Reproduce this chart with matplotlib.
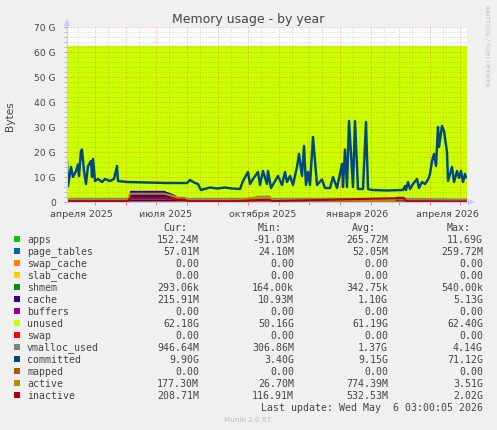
import matplotlib
matplotlib.use('Agg')
import matplotlib.pyplot as plt
import pandas as pd
from matplotlib.patches import Rectangle, Polygon

# ---------------- data ----------------
title = "Memory usage - by year"
ylabel = "Bytes"

committed_dates = [
    '2025-04-03', '2025-04-04', '2025-04-07', '2025-04-09', '2025-04-12', '2025-04-14', '2025-04-15',
    '2025-04-17', '2025-04-18', '2025-04-20', '2025-04-22', '2025-04-24', '2025-04-27', '2025-04-28',
    '2025-04-29', '2025-05-01', '2025-05-04', '2025-05-08', '2025-05-11', '2025-05-16', '2025-05-20',
    '2025-05-23', '2025-05-24', '2025-06-02', '2025-06-22', '2025-07-12', '2025-08-01', '2025-08-04',
    '2025-08-08', '2025-08-12', '2025-08-15', '2025-08-24', '2025-08-31', '2025-09-08', '2025-09-15',
    '2025-09-23', '2025-09-26', '2025-10-01', '2025-10-03', '2025-10-06', '2025-10-11', '2025-10-13',
    '2025-10-16', '2025-10-20', '2025-10-21', '2025-10-24', '2025-10-31', '2025-11-04', '2025-11-07',
    '2025-11-09', '2025-11-12', '2025-11-15', '2025-11-19', '2025-11-21', '2025-11-24', '2025-11-26',
    '2025-11-28', '2025-11-30', '2025-12-02', '2025-12-05', '2025-12-09', '2025-12-14', '2025-12-17',
    '2025-12-22', '2025-12-25', '2025-12-29', '2026-01-03', '2026-01-04', '2026-01-06', '2026-01-08',
    '2026-01-10', '2026-01-14', '2026-01-16', '2026-01-19', '2026-01-24', '2026-01-27', '2026-01-29',
    '2026-02-02', '2026-02-17', '2026-03-05', '2026-03-07', '2026-03-08', '2026-03-10', '2026-03-12',
    '2026-03-15', '2026-03-19', '2026-03-21', '2026-03-24', '2026-03-27', '2026-03-30', '2026-04-01',
    '2026-04-03', '2026-04-05', '2026-04-07', '2026-04-09', '2026-04-10', '2026-04-13', '2026-04-15',
    '2026-04-18', '2026-04-19', '2026-04-23', '2026-04-25', '2026-04-28', '2026-04-30', '2026-05-02',
    '2026-05-04', '2026-05-06', '2026-05-07']
committed = [
    16.0, 6.4, 14.0, 10.0, 12.4, 15.0, 10.4,
    20.4, 21.0, 12.4, 7.2, 14.4, 16.4, 10.0,
    17.2, 8.4, 9.2, 8.0, 9.2, 8.4, 9.2,
    14.4, 8.4, 8.0, 7.8, 7.6, 7.6, 8.8,
    7.8, 7.2, 4.8, 5.8, 5.4, 5.8, 5.4,
    5.2, 8.4, 12.0, 7.2, 9.2, 12.0, 6.8,
    12.4, 7.2, 12.4, 5.6, 10.4, 6.8, 12.0,
    8.0, 10.4, 6.8, 14.0, 19.2, 10.4, 22.4,
    6.8, 12.0, 6.8, 26.0, 6.8, 9.0, 5.6,
    5.6, 10.0, 5.6, 15.2, 6.0, 21.0, 6.0,
    32.4, 6.0, 32.4, 5.2, 5.2, 32.0, 5.2,
    4.8, 4.6, 4.8, 6.4, 4.8, 8.0, 5.2,
    7.2, 9.2, 5.6, 8.0, 7.2, 9.0, 11.2,
    16.4, 19.2, 14.4, 30.0, 22.0, 30.4, 28.4,
    20.0, 8.4, 14.0, 8.0, 12.4, 9.6, 12.4,
    8.0, 11.2, 9.9]

stack_dates = ['2025-04-03', '2025-06-03', '2025-06-05', '2025-07-09', '2025-07-20', '2025-07-22',
               '2025-07-30', '2025-08-02', '2025-09-18', '2025-10-08', '2025-10-10', '2025-10-23',
               '2025-10-25', '2026-02-24', '2026-02-26', '2026-03-06', '2026-03-08', '2026-05-08']
apps        = [0.25, 0.25, 0.25, 0.25, 0.25, 0.25, 0.25, 0.25, 0.25, 0.25, 0.25, 0.25, 0.25, 0.25, 0.25, 0.25, 0.25, 0.15]
page_tables = [0.05, 0.05, 0.05, 0.05, 0.05, 0.05, 0.05, 0.05, 0.05, 0.05, 0.05, 0.05, 0.05, 0.05, 0.05, 0.05, 0.05, 0.06]
swap_cache  = [0.0] * 18
slab_cache  = [0.0] * 18
shmem       = [0.0003] * 18
cache       = [0.3, 0.3, 4.3, 4.3, 2.6, 1.9, 1.8, 0.3, 0.3, 1.6, 2.3, 2.3, 0.3, 0.3, 1.9, 1.9, 0.3, 0.22]
buffers     = [0.0] * 18
unused      = [61.85, 61.85, 57.85, 57.85, 59.55, 60.25, 60.35, 61.85, 61.85, 60.55, 59.85, 59.85,
               61.85, 61.85, 60.25, 60.25, 61.85, 62.0]
swap        = [0.0] * 18
vmalloc_used = [1.25, 1.25, 1.35, 1.35, 1.3, 1.3, 1.3, 1.25, 1.25, 1.3, 1.3, 1.3, 1.25, 1.3, 1.3, 1.3, 1.25, 0.95]
mapped       = [0.0] * 18
active       = [0.6, 0.6, 3.3, 3.3, 2.2, 1.6, 1.4, 0.6, 0.7, 1.8, 2.0, 2.0, 0.6, 0.6, 1.0, 1.0, 0.6, 0.18]
inactive     = [0.35, 0.35, 1.5, 1.5, 1.2, 1.0, 0.9, 0.35, 0.35, 0.7, 0.8, 0.8, 0.35, 1.5, 1.5, 1.5, 0.35, 0.21]

x_start, x_end = '2025-04-03', '2026-05-08'
x_label_dates = ['2025-04-17', '2025-07-11', '2025-10-16', '2026-01-18', '2026-04-18']
x_labels = ['апреля 2025', 'июля 2025', 'октября 2025', 'января 2026', 'апреля 2026']
y_ticks = [0, 10, 20, 30, 40, 50, 60, 70]
y_labels = ['0', '10 G', '20 G', '30 G', '40 G', '50 G', '60 G', '70 G']

legend_names = ['apps', 'page_tables', 'swap_cache', 'slab_cache', 'shmem', 'cache', 'buffers',
                'unused', 'swap', 'vmalloc_used', 'committed', 'mapped', 'active', 'inactive']
legend_colors = ['#00CC00', '#0066B3', '#FF8000', '#FFCC00', '#008F00', '#330099', '#990099',
                 '#CCFF00', '#FF0000', '#808080', '#00487D', '#B35A00', '#B38F00', '#B30000']
cur_vals = ['152.24M', '57.01M', '0.00', '0.00', '293.06k', '215.91M', '0.00', '62.18G', '0.00',
            '946.64M', '9.90G', '0.00', '177.30M', '208.71M']
min_vals = ['-91.03M', '24.10M', '0.00', '0.00', '164.00k', '10.93M', '0.00', '50.16G', '0.00',
            '306.86M', '3.40G', '0.00', '26.70M', '116.91M']
avg_vals = ['265.72M', '52.05M', '0.00', '0.00', '342.75k', '1.10G', '0.00', '61.19G', '0.00',
            '1.37G', '9.15G', '0.00', '774.39M', '532.53M']
max_vals = ['11.69G', '259.72M', '0.00', '0.00', '540.00k', '5.13G', '0.00', '62.40G', '0.00',
            '4.14G', '71.12G', '0.00', '3.51G', '2.02G']
col_headers = ['Cur:', 'Min:', 'Avg:', 'Max:']
last_update = "Last update: Wed May  6 03:00:05 2026"
version = "Munin 2.0.67"
watermark = "RRDTOOL / TOBI OETIKER"

# ---------------- figure ----------------
W, H = 497, 431
BG = '#F0F0F0'
TXT = '#444444'
fig = plt.figure(figsize=(W / 100, H / 100), dpi=100, facecolor=BG)

def fx(x):
    return x / W

def fy(y):
    return 1 - y / H

ax_l, ax_t, ax_r, ax_b = 67, 28, 467, 203
ax = fig.add_axes([fx(ax_l), fy(ax_b), (ax_r - ax_l) / W, (ax_b - ax_t) / H])
ax.set_facecolor('white')

sd = pd.to_datetime(stack_dates)
stack_series = [apps, page_tables, swap_cache, slab_cache, shmem, cache, buffers, unused, swap]
stack_cols = legend_colors[:9]
ax.stackplot(sd, *stack_series, colors=stack_cols, linewidth=0, zorder=1)

x0, x1 = pd.Timestamp(x_start), pd.Timestamp(x_end)
ax.set_xlim(x0, x1)
ax.set_ylim(0, 70)

# grid (dotted, rrdtool style)
dot = (0, (1, 2))
minor_c = (0.4, 0.4, 0.4, 0.3)
major_c = (1, 0, 0, 0.38)
for v in range(0, 71, 2):
    if v % 10:
        ax.axhline(v, color=minor_c, lw=0.72, ls=dot, zorder=2)
for v in y_ticks[1:]:
    ax.axhline(v, color=major_c, lw=0.72, ls=dot, zorder=2)
month_starts = pd.date_range(x0, x1, freq='MS')
mid_months = pd.date_range(x0, x1, freq='MS') + pd.Timedelta(days=13)
for d in mid_months:
    if d < x1:
        ax.axvline(d, color=minor_c, lw=0.72, ls=dot, zorder=2)
ax.axvline(x0 + pd.Timedelta(days=11), color=minor_c, lw=0.72, ls=dot, zorder=2)
for d in month_starts:
    ax.axvline(d, color=major_c, lw=0.72, ls=dot, zorder=2)

# lines
lw = 1.45
ax.plot(sd, vmalloc_used, color='#808080', lw=lw, zorder=3)
ax.plot(pd.to_datetime(committed_dates), committed, color='#00487D', lw=1.75, zorder=3,
        solid_joinstyle='round')
ax.plot(sd, mapped, color='#B35A00', lw=lw, zorder=3)
ax.plot(sd, active, color='#B38F00', lw=lw, zorder=3)
ax.plot(sd, inactive, color='#B30000', lw=lw, zorder=3)

# axes / ticks
for s in ['top', 'right']:
    ax.spines[s].set_visible(False)
axis_col = '#C8C8F0'
ax.spines['left'].set_color(axis_col)
ax.spines['bottom'].set_color(axis_col)
ax.spines['left'].set_linewidth(0.8)
ax.spines['bottom'].set_linewidth(0.8)
ax.spines['left'].set_zorder(4)
ax.spines['bottom'].set_zorder(4)

ax.set_yticks(y_ticks)
ax.set_yticklabels(y_labels, fontsize=6.6, color=TXT, family='DejaVu Sans')
ax.tick_params(axis='y', length=2, width=0.7, color=(1, 0, 0, 0.5), pad=6)
ax.set_xticks(pd.to_datetime(x_label_dates))
ax.set_xticklabels(x_labels, fontsize=6.8, color=TXT, family='DejaVu Sans')
ax.tick_params(axis='x', length=0, pad=5)
ax.set_xticks(month_starts, minor=True)
ax.tick_params(axis='x', which='minor', length=2, width=0.7, color=(1, 0, 0, 0.5))
ax.set_yticks([v for v in range(0, 71, 2) if v % 10], minor=True)
ax.tick_params(axis='y', which='minor', length=2, width=0.7, color=(0.5, 0.5, 0.5, 0.5))

# arrows
fig.add_artist(Polygon([(fx(64), fy(27)), (fx(70), fy(27)), (fx(67), fy(20))], closed=True,
                       transform=fig.transFigure, color=axis_col, lw=0))
fig.add_artist(plt.Line2D([fx(67), fx(67)], [fy(28), fy(24)], transform=fig.transFigure,
                          color=axis_col, lw=0.8))
fig.add_artist(Polygon([(fx(468), fy(200)), (fx(468), fy(206)), (fx(475), fy(203))], closed=True,
                       transform=fig.transFigure, color=axis_col, lw=0))
fig.add_artist(plt.Line2D([fx(467), fx(469)], [fy(203), fy(203)], transform=fig.transFigure,
                          color=axis_col, lw=0.8))

# titles
fig.text(fx(248), fy(19), title, ha='center', va='center', fontsize=9, color=TXT, family='DejaVu Sans')
fig.text(fx(10), fy(116), ylabel, ha='center', va='center', rotation=90, fontsize=7.6, color=TXT,
         family='DejaVu Sans')
fig.text(fx(487), fy(5), watermark, ha='center', va='top', rotation=270, fontsize=4.6,
         color='#BBBBBB', family='DejaVu Sans')

# legend
mono = 'DejaVu Sans Mono'
lfs = 7.1
col_right = [199, 294, 388, 483]
y_head = 228
for cx, h in zip(col_right, col_headers):
    fig.text(fx(cx - 12), fy(y_head), h, ha='right', va='center', fontsize=lfs, color=TXT, family=mono)
row_y0, row_dy = 240, 12
for i, name in enumerate(legend_names):
    y = row_y0 + i * row_dy
    fig.add_artist(Rectangle((fx(14), fy(y + 3)), 6 / W, 6 / H, transform=fig.transFigure,
                             facecolor=legend_colors[i], edgecolor='none'))
    fig.text(fx(27), fy(y), name, ha='left', va='center', fontsize=lfs, color=TXT, family=mono)
    for cx, vals in zip(col_right, [cur_vals, min_vals, avg_vals, max_vals]):
        fig.text(fx(cx), fy(y), vals[i], ha='right', va='center', fontsize=lfs, color=TXT, family=mono)
fig.text(fx(483), fy(408), last_update, ha='right', va='center', fontsize=lfs, color=TXT, family=mono)
fig.text(fx(248), fy(420), version, ha='center', va='center', fontsize=5.2, color='#BBBBBB',
         family='DejaVu Sans')

fig.savefig('out.png', dpi=100, facecolor=BG)
